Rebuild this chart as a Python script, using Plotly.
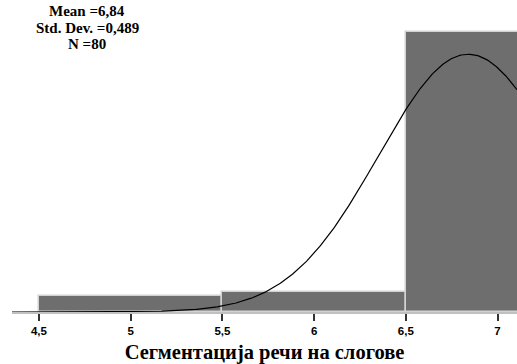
import numpy as np
import plotly.graph_objects as go

# Histogram of syllable-segmentation scores (bin width 1)
bin_centers = [5, 6, 7]
counts = [4, 5, 71]
bin_width = 1.0

# Summary statistics shown in the corner
mean_val = 6.84
std_val = 0.489
n_val = 80

tick_vals = [4.5, 5, 5.5, 6, 6.5, 7]
tick_text = ["4,5", "5", "5,5", "6", "6,5", "7"]

x_title = "Сегментација речи на слогове"
stats_lines = ["Mean =6,84", "Std. Dev. =0,489", "N =80"]

x_range = [4.353, 7.106]
y_range = [0, 79]

W, H = 517, 364
ML, MB = 12, 52

fig = go.Figure()

fig.add_trace(go.Bar(
    x=bin_centers,
    y=counts,
    width=bin_width,
    marker=dict(color="#6e6e6e", line=dict(color="#d2d2d2", width=1.5)),
    hoverinfo="skip",
))

# Fitted normal curve scaled to the histogram counts
xs = np.linspace(x_range[0], x_range[1], 400)
ys = n_val * bin_width / (std_val * np.sqrt(2 * np.pi)) * np.exp(-0.5 * ((xs - mean_val) / std_val) ** 2)
fig.add_trace(go.Scatter(
    x=xs, y=ys, mode="lines",
    line=dict(color="#000000", width=1.2),
    hoverinfo="skip",
))

serif = "Liberation Serif"
plot_w = W - ML
plot_h = H - MB
center_px = 87
line_y = [11.5, 28, 44.5]
for txt, yy in zip(stats_lines, line_y):
    fig.add_annotation(
        x=(center_px - ML) / plot_w, y=1 - yy / plot_h,
        xref="x domain", yref="y domain",
        text="<b>%s</b>" % txt, showarrow=False,
        font=dict(family=serif, size=15, color="#000000"),
        xanchor="center", yanchor="middle",
    )

fig.update_layout(
    width=W, height=H,
    margin=dict(l=ML, r=0, t=0, b=MB),
    paper_bgcolor="white", plot_bgcolor="white",
    showlegend=False,
    bargap=0,
    xaxis=dict(
        range=x_range, tickvals=tick_vals, ticktext=["<b>%s</b>" % t for t in tick_text],
        showgrid=False, zeroline=False,
        showline=True, linecolor="#c0c0c0", linewidth=1.5,
        ticks="outside", ticklen=7, tickwidth=1.5, tickcolor="#333333",
        tickfont=dict(family="Liberation Sans", size=11.5, color="#000000"),
        title=dict(text="<b>%s</b>" % x_title,
                   font=dict(family=serif, size=20.5, color="#000000"), standoff=9),
    ),
    yaxis=dict(range=y_range, visible=False, showgrid=False, zeroline=False),
)

fig.write_html("out.html")
